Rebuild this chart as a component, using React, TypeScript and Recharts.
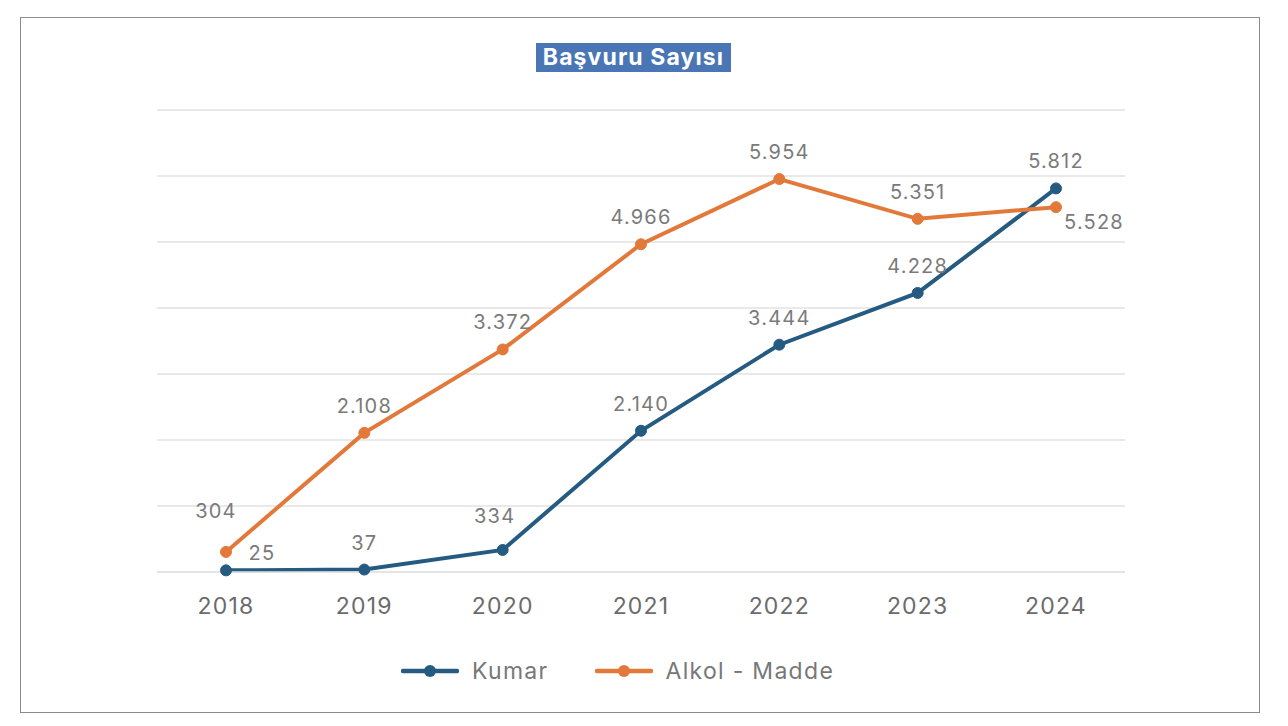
import { LineChart, Line, XAxis, YAxis, CartesianGrid } from 'recharts'

const years = ['2018', '2019', '2020', '2021', '2022', '2023', '2024']
const kumar = [25, 37, 334, 2140, 3444, 4228, 5812]
const alkolMadde = [304, 2108, 3372, 4966, 5954, 5351, 5528]
const yTicks = [0, 1000, 2000, 3000, 4000, 5000, 6000, 7000]

const KUMAR_COLOR = '#255b80'
const ALKOL_COLOR = '#e2793a'
const FONT = 'Inter, "Noto Sans", sans-serif'

const data = years.map((year, i) => ({ year, kumar: kumar[i], alkol: alkolMadde[i] }))

const fmt = (v: number) => String(v).replace(/\B(?=(\d{3})+(?!\d))/g, '.')

// label offsets from the point (dx, dy of text centre); default is straight above
const kumarOffsets: Record<number, [number, number]> = { 0: [36, -17], 2: [-8, -34] }
const alkolOffsets: Record<number, [number, number]> = { 0: [-10, -41], 6: [38, 15] }

function makeLabel(offsets: Record<number, [number, number]>) {
  return (props: any) => {
    const { x, y, value, index } = props
    const [dx, dy] = offsets[index] ?? [0, -27]
    return (
      <text
        x={x + dx}
        y={y + dy}
        textAnchor="middle"
        dominantBaseline="central"
        fontSize={20}
        letterSpacing={1.2}
        fill="#7a7a7a"
        fontFamily={FONT}
      >
        {fmt(value)}
      </text>
    )
  }
}

function LegendItem({ color, label }: { color: string; label: string }) {
  return (
    <div style={{ display: 'flex', alignItems: 'center' }}>
      <svg width={58} height={14}>
        <line x1={2} y1={7} x2={56} y2={7} stroke={color} strokeWidth={4.5} strokeLinecap="round" />
        <circle cx={29} cy={7} r={6} fill={color} />
      </svg>
      <span style={{ marginLeft: 13, fontSize: 23, color: '#777', fontFamily: FONT, letterSpacing: 1.3 }}>
        {label}
      </span>
    </div>
  )
}

export default function App() {
  return (
    <div style={{ position: 'absolute', left: 0, top: 0, width: 1288, height: 726, background: '#fff' }}>
      <div
        style={{
          position: 'absolute',
          left: 20,
          top: 17,
          width: 1238,
          height: 694,
          border: '1.5px solid #8a8a8a',
        }}
      />
      <div
        style={{
          position: 'absolute',
          left: 536,
          top: 43,
          width: 195,
          height: 29,
          background: '#4a76b6',
          color: '#fff',
          fontFamily: FONT,
          fontWeight: 700,
          fontSize: 23,
          letterSpacing: 1.1,
          lineHeight: '29px',
          textAlign: 'center',
          whiteSpace: 'nowrap',
        }}
      >
        Başvuru Sayısı
      </div>
      <div style={{ position: 'absolute', left: 0, top: 0 }}>
        <LineChart
          width={1288}
          height={726}
          data={data}
          margin={{ top: 110, right: 163, bottom: 114, left: 157 }}
        >
          <CartesianGrid vertical={false} stroke="#e2e2e2" strokeWidth={1.5} />
          <XAxis
            dataKey="year"
            axisLine={{ stroke: '#e2e2e2', strokeWidth: 1.5 }}
            tickLine={false}
            tickMargin={20}
            height={40}
            padding={{ left: 69, right: 69 }}
            tick={{ fontSize: 23, fill: '#6b6b6b', fontFamily: FONT, letterSpacing: 1.2 }}
          />
          <YAxis hide domain={[0, 7000]} ticks={yTicks} />
          <Line
            dataKey="kumar"
            stroke={KUMAR_COLOR}
            strokeWidth={4}
            dot={{ r: 5.5, fill: KUMAR_COLOR, stroke: KUMAR_COLOR, strokeWidth: 1 }}
            label={makeLabel(kumarOffsets)}
            isAnimationActive={false}
          />
          <Line
            dataKey="alkol"
            stroke={ALKOL_COLOR}
            strokeWidth={4}
            dot={{ r: 5.5, fill: ALKOL_COLOR, stroke: ALKOL_COLOR, strokeWidth: 1 }}
            label={makeLabel(alkolOffsets)}
            isAnimationActive={false}
          />
        </LineChart>
      </div>
      <div
        style={{
          position: 'absolute',
          left: 401,
          top: 657,
          display: 'flex',
          gap: 46,
        }}
      >
        <LegendItem color={KUMAR_COLOR} label="Kumar" />
        <LegendItem color={ALKOL_COLOR} label="Alkol - Madde" />
      </div>
    </div>
  )
}
